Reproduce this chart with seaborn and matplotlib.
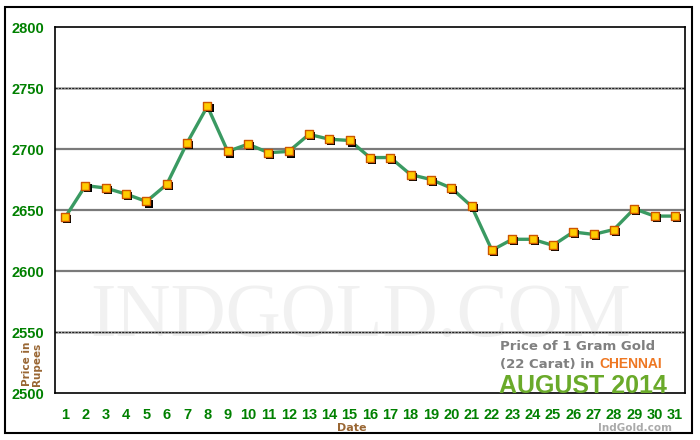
import numpy as np
import pandas as pd
import matplotlib
matplotlib.use("Agg")
import matplotlib.pyplot as plt
import matplotlib.transforms as mtrans
from matplotlib.patches import Rectangle
import seaborn as sns

# harga emas 22 karat per gram, Chennai, Agustus 2014
tanggal = list(range(1, 32))
harga = [2644, 2670, 2668, 2663, 2657, 2671, 2705, 2735, 2698, 2704,
         2697, 2698, 2712, 2708, 2707, 2693, 2693, 2679, 2675, 2668,
         2653, 2617, 2626, 2626, 2621, 2632, 2630, 2634, 2651, 2645, 2645]
y_ticks = [2500, 2550, 2600, 2650, 2700, 2750, 2800]

df = pd.DataFrame({'Date': tanggal, 'Harga': harga})

sns.set_style("white")
plt.rcParams['font.family'] = ['Liberation Sans', 'DejaVu Sans']

hijau = '#008000'
coklat = '#996633'

fig = plt.figure(figsize=(7, 4.4), dpi=100)
fig.patches.append(Rectangle((5 / 700, 7 / 440), 687 / 700, 426 / 440, transform=fig.transFigure,
                             fill=False, edgecolor='black', linewidth=1.5))
ax = fig.add_axes([55 / 700, 1 - 393 / 440, 630 / 700, 366 / 440])

# garis grid
for g in [2600, 2650, 2700]:
    ax.axhline(g, color='#7a7a7a', linewidth=1.6, zorder=1)
for g in [2550, 2750]:
    ax.axhline(g, color='#b0b0b0', linewidth=2.0, zorder=1)
    ax.axhline(g, color='#222222', linewidth=0.8, linestyle=(0, (2, 1)), zorder=1)

# watermark
ax.text(0.485, 0.205, 'INDGOLD.COM', transform=ax.transAxes, ha='center', va='center',
        fontsize=55, family='Liberation Serif', color='#f1f1f1', zorder=0)

sns.lineplot(data=df, x='Date', y='Harga', ax=ax, color='#3a9a62', linewidth=2.4, zorder=3)

bayangan = mtrans.offset_copy(ax.transData, fig=fig, x=1.5, y=-1.5, units='points')
sns.scatterplot(data=df, x='Date', y='Harga', ax=ax, marker='s', s=40, color='black',
                edgecolor='black', linewidth=0, transform=bayangan, zorder=4)
sns.scatterplot(data=df, x='Date', y='Harga', ax=ax, marker='s', s=40, color='#ffcc00',
                edgecolor='#cc5500', linewidth=1.0, zorder=5)

ax.set_xlim(0.5, 31.5)
ax.set_ylim(2500, 2800)
ax.set_yticks(y_ticks)
ax.set_yticklabels([str(v) for v in y_ticks], color=hijau, fontsize=10.5, fontweight='bold')
ax.set_xticks(tanggal)
ax.set_xticklabels([str(t) for t in tanggal], color=hijau, fontsize=10.5, fontweight='bold')
ax.set_xticks(np.arange(0.5, 32, 1), minor=True)
ax.tick_params(axis='x', which='major', length=0, pad=11)
ax.tick_params(axis='x', which='minor', length=5, width=1, color='black', direction='out')
ax.tick_params(axis='y', length=6, width=1, color='black', direction='out', pad=2)
ax.set_xlabel('Date', color=coklat, fontsize=8, fontweight='bold', family='DejaVu Sans')
ax.xaxis.set_label_coords(0.471, -0.083)
ax.set_ylabel('')

for s in ['left', 'right', 'top', 'bottom']:
    ax.spines[s].set_visible(True)
    ax.spines[s].set_color('black')
    ax.spines[s].set_linewidth(1.2)
ax.spines['bottom'].set_linestyle((0, (3, 1)))

fig.text(32 / 700, 1 - 364 / 440, 'Price in\nRupees', rotation=90, ha='center', va='center',
         color=coklat, fontsize=7.5, fontweight='bold', family='DejaVu Sans', linespacing=1.0)

# keterangan pojok kanan bawah
fig.text(500 / 700, 1 - 346 / 440, 'Price of 1 Gram Gold', color='#808080', fontsize=9.5,
         fontweight='bold', family='DejaVu Sans', va='center', ha='left')
t2 = fig.text(500 / 700, 1 - 364 / 440, '(22 Carat) in', color='#808080', fontsize=9.5,
              fontweight='bold', family='DejaVu Sans', va='center', ha='left')
fig.canvas.draw()
kanan = (t2.get_window_extent().x1 + 5) / fig.bbox.width
fig.text(kanan, 1 - 364 / 440, 'CHENNAI', color='#ee7722', fontsize=10,
         fontweight='bold', family='Liberation Sans', va='center', ha='left')
fig.text(499 / 700, 1 - 386 / 440, 'AUGUST 2014', color='#6aaa2a', fontsize=18,
         fontweight='bold', family='Liberation Sans', va='center', ha='left')
fig.text(672 / 700, 1 - 428 / 440, 'IndGold.com', color='#aaaaaa', fontsize=7.5,
         fontweight='bold', family='DejaVu Sans', va='center', ha='right')

fig.savefig('out.png', dpi=100)
